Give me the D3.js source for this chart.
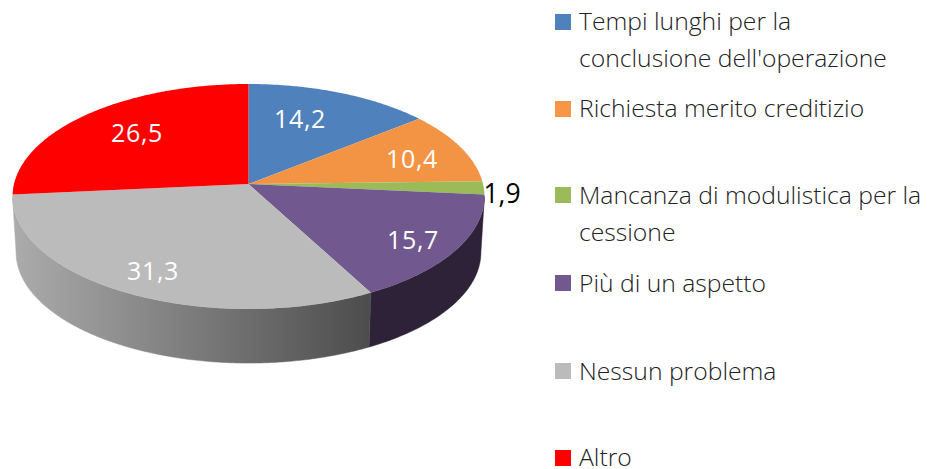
<!DOCTYPE html>
<html>
<head>
<meta charset="utf-8">
<script src="https://cdn.jsdelivr.net/npm/d3@7"></script>
<style>
    html, body { margin: 0; padding: 0; background: #fff; }
    text { font-family: "Open Sans", sans-serif; }
</style>
</head>
<body>
<div id="chart"></div>
<script>
const categories = ["Tempi lunghi per la|conclusione dell'operazione", "Richiesta merito creditizio", "Mancanza di modulistica per la|cessione", "Più di un aspetto", "Nessun problema", "Altro"];
const values = [14.2, 10.4, 1.9, 15.7, 31.3, 26.5];
const colors = ["#4f81bd", "#f79646", "#9bbb59", "#71588f", "#bbbbbb", "#ff0000"];
const topColors = ["#4f81bd", "#f39445", "#9bbb59", "#71588f", "#bbbbbb", "#ff0000"];
const sideColors = ["#2f4d71", "#94592a", "#5d7035", "#2d2238", "url(#greySide)", "#990000"];

const width = 927, height = 469;

// tilted disc: perspective factor p makes the front half bigger than the back
const apex = { x: 248.5, y: 184 };
const rx = 234.5, ry = 111.1, p = 0.111;
const depthY = 56, lowerScale = 0.985;

const labelFill = ["#fff", "#fff", "#000", "#fff", "#fff", "#fff"];
const labelSize = [25, 25, 26.5, 25, 25, 25];
const labelPos = [[300, 128], [412, 168], [502, 203], [413, 249], [153, 280], [137, 142]];
const legendTop = [14, 101, 187, 275, 363, 450];
const legendBase = [30, 117, 204, 292, 380, 466];

const svg = d3.select("#chart").append("svg")
    .attr("width", width)
    .attr("height", height);

const grad = svg.append("defs").append("linearGradient")
    .attr("id", "greySide")
    .attr("gradientUnits", "userSpaceOnUse")
    .attr("x1", 15).attr("x2", 368).attr("y1", 0).attr("y2", 0);
grad.append("stop").attr("offset", 0).attr("stop-color", "#ababab");
grad.append("stop").attr("offset", 1).attr("stop-color", "#4d4d4d");

function project(a, r, lower) {
    const u = Math.sin(a) * r, v = -Math.cos(a) * r;
    const s = 1 / (1 - p * v);
    const k = lower ? lowerScale : 1;
    return [
        apex.x + rx * u * s * k,
        apex.y + (lower ? depthY : 0) + ry * v * s * k
    ];
}

function rim(a0, a1, lower) {
    const n = Math.max(2, Math.ceil((a1 - a0) / 0.01));
    return d3.range(n + 1).map(i => project(a0 + (a1 - a0) * i / n, 1, lower));
}

const pie = d3.pie().sort(null).value(d => d);
const arcs = pie(values);
const line = d3.line();

// only the part of the wall between the silhouette points can be seen
const frontStart = Math.PI / 2 + Math.asin(p);
const frontEnd = 3 * Math.PI / 2 - Math.asin(p);

const front = arcs.map((d, i) => ({
    i,
    a0: Math.max(d.startAngle, frontStart),
    a1: Math.min(d.endAngle, frontEnd)
})).filter(d => d.a1 > d.a0);

svg.append("g").selectAll("path")
    .data(front)
    .enter()
    .append("path")
    .attr("d", d => line(rim(d.a0, d.a1, false).concat(rim(d.a0, d.a1, true).reverse())) + "Z")
    .attr("fill", d => sideColors[d.i])
    .attr("stroke", d => sideColors[d.i])
    .attr("stroke-width", 0.5);

svg.append("g").selectAll("path")
    .data(arcs)
    .enter()
    .append("path")
    .attr("d", d => line([[apex.x, apex.y]].concat(rim(d.startAngle, d.endAngle, false))) + "Z")
    .attr("fill", (d, i) => topColors[i]);

svg.append("g").selectAll("text")
    .data(values)
    .enter()
    .append("text")
    .attr("x", (d, i) => labelPos[i][0])
    .attr("y", (d, i) => labelPos[i][1])
    .attr("text-anchor", "middle")
    .attr("font-size", (d, i) => labelSize[i])
    .attr("letter-spacing", (d, i) => i === 2 ? 0 : 0.7)
    .attr("fill", (d, i) => labelFill[i])
    .text(d => String(d).replace(".", ","));

const legend = svg.append("g").selectAll("g")
    .data(categories)
    .enter()
    .append("g");

legend.append("rect")
    .attr("x", 555)
    .attr("y", (d, i) => legendTop[i])
    .attr("width", 16)
    .attr("height", 16)
    .attr("fill", (d, i) => colors[i]);

legend.append("text")
    .attr("y", (d, i) => legendBase[i])
    .attr("font-size", 24.7)
    .attr("font-weight", 300)
    .attr("fill", "#222")
    .selectAll("tspan")
    .data(d => d.split("|"))
    .enter()
    .append("tspan")
    .attr("x", 579)
    .attr("dy", (d, i) => i ? 36.5 : 0)
    .text(d => d);
</script>
</body>
</html>
